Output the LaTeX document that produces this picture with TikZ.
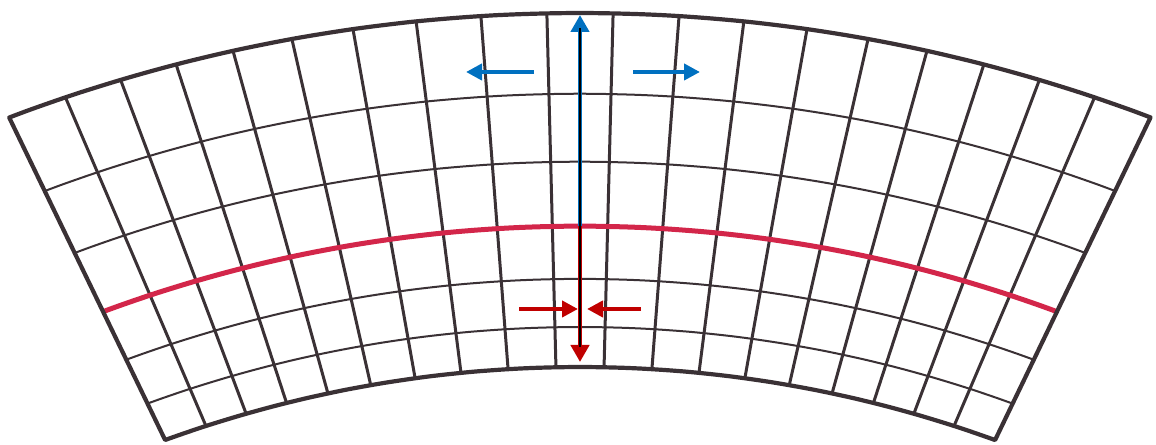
\documentclass[tikz,border=0pt]{standalone}
\usepackage{tikz}
\usetikzlibrary{calc,arrows.meta}
\definecolor{gridink}{HTML}{3A3135}
\definecolor{axisred}{HTML}{D3264A}
\definecolor{pullblue}{HTML}{0070C0}
\definecolor{pushred}{HTML}{C00000}
\begin{document}
\begin{tikzpicture}[x=0.1mm,y=-0.1mm,
    declare function={
      wt(\ag)=\ag+0.08*\ag*(1-\ag*\ag)^2;
      bx(\fr,\ag)=580+(1-\fr)*1216*sin(19.96*wt(\ag))+\fr*1612*sin(20.74*wt(\ag));
      by(\fr,\ag)=(1-\fr)*(1583-1216*cos(19.96*wt(\ag)))+\fr*(1625-1612*cos(20.74*wt(\ag)));
    },
    beamrim/.style={draw=gridink,line width=0.42mm,line join=round},
    beamrib/.style={draw=gridink,line width=0.3mm},
    beamring/.style={draw=gridink,line width=0.2mm},
    axisline/.style={draw=axisred,line width=0.5mm},
    pull/.style={draw=pullblue,line width=0.45mm,-{Triangle[length=1.6mm,width=1.6mm]}},
    push/.style={draw=pushred,line width=0.45mm,-{Triangle[length=1.6mm,width=1.6mm]}},
    spine/.style={draw=black,line width=0.15mm}]
    \useasboundingbox (0,0) rectangle (1156,445);
    \coordinate (top) at (580,15);
    \coordinate (mid) at ({bx(0.398,0)},{by(0.398,0)});
    \coordinate (bot) at (580,362);
    \coordinate (spinetop) at (580,28);
    \coordinate (spinebot) at (580,347);
    \coordinate (pullLs) at (534,72); \coordinate (pullLt) at (466,72);
    \coordinate (pullRs) at (633,72); \coordinate (pullRt) at (700,72);
    \coordinate (pushLs) at (519,309); \coordinate (pushLt) at (578,309);
    \coordinate (pushRs) at (641,309); \coordinate (pushRt) at (587,309);
    \foreach \i [evaluate=\i as \ag using -1+2*\i/19] in {1,...,18}
        {\draw[beamrib] ({bx(0,\ag)},{by(0,\ag)}) -- ({bx(1,\ag)},{by(1,\ag)});}
    \foreach \fr in {0.113,0.249,0.58,0.772}
        {\draw[beamring] plot[domain=-1:1,samples=61,smooth,variable=\ag] ({bx(\fr,\ag)},{by(\fr,\ag)});}
    \draw[axisline] plot[domain=-1:1,samples=61,smooth,variable=\ag] ({bx(0.398,\ag)},{by(0.398,\ag)});
    \draw[beamrim] plot[domain=-1:1,samples=61,smooth,variable=\ag] ({bx(1,\ag)},{by(1,\ag)})
        -- plot[domain=1:-1,samples=61,smooth,variable=\ag] ({bx(0,\ag)},{by(0,\ag)}) -- cycle;
    \draw[pull,-{Triangle[length=1.7mm,width=1.8mm]}] (mid) -- (top);
    \draw[push,-{Triangle[length=1.7mm,width=1.8mm]}] (mid) -- (bot);
    \draw[spine] (spinetop) -- (spinebot);
    \draw[pull] (pullLs) -- (pullLt);
    \draw[pull] (pullRs) -- (pullRt);
    \draw[push] (pushLs) -- (pushLt);
    \draw[push] (pushRs) -- (pushRt);
\end{tikzpicture}
\end{document}
